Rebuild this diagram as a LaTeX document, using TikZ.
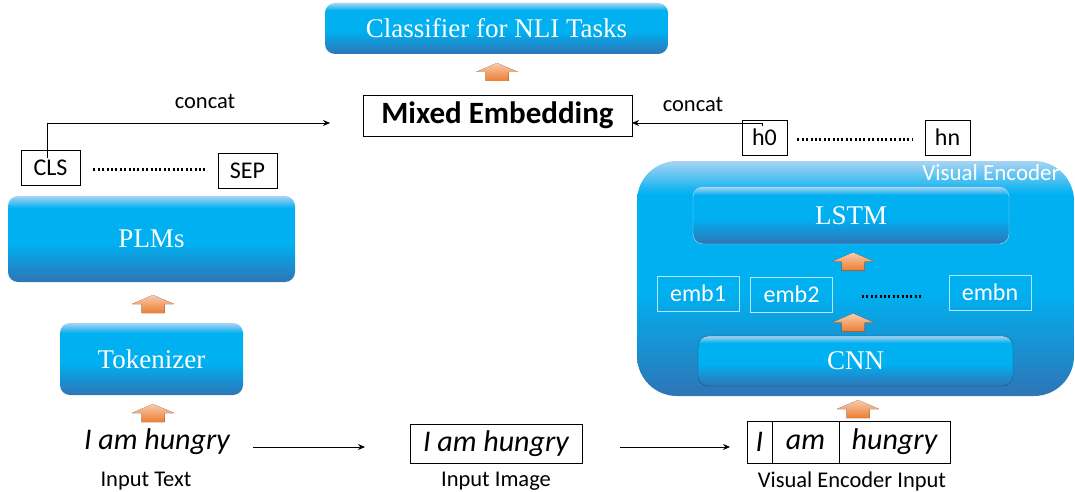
\documentclass[tikz,border=0pt]{standalone}
\usepackage{fontspec}
\setmainfont{Liberation Serif}
\setsansfont{Carlito}
\usetikzlibrary{calc,arrows.meta}
\definecolor{bbot}{HTML}{2E75B6}
\definecolor{bmid}{HTML}{00B0F0}
\definecolor{btop}{HTML}{A9D3F2}
\definecolor{arrtop}{HTML}{F8CBAD}
\definecolor{arrbot}{HTML}{ED7D31}
\pgfdeclareverticalshading{glassblue}{100bp}{color(0bp)=(bbot); color(25bp)=(bbot); color(47bp)=(bmid); color(68bp)=(bmid); color(75bp)=(btop); color(100bp)=(btop)}
\tikzset{
    glass/.style={rectangle, rounded corners=10pt, shading=glassblue, text=white, inner sep=0pt, font=\fontsize{27}{30}\selectfont},
    wbox/.style={rectangle, draw, line width=0.9pt, inner sep=0pt, font=\sffamily\fontsize{24}{28}\selectfont},
    embbox/.style={rectangle, draw=white!70!bmid, line width=0.8pt, inner sep=0pt, text=white, minimum width=82pt, minimum height=35pt, font=\sffamily\fontsize{24}{28}\selectfont},
    lbl/.style={inner sep=0pt, font=\sffamily\fontsize{22.5}{26}\selectfont},
    hungry/.style={inner sep=0pt, font=\sffamily\itshape\fontsize{30}{34}\selectfont},
    dots/.style={line width=2.2pt, dash pattern=on 2pt off 2.4pt},
    flow/.style={line width=0.8pt, -{Stealth[length=7pt, width=6pt]}},
    uparr/.pic={\fill[top color=arrtop, bottom color=arrbot] (-11.5,9) -- (-11.5,0) -- (-21,0) -- (0,-9) -- (21,0) -- (11.5,0) -- (11.5,9) -- cycle;}
}

\begin{document}
\begin{tikzpicture}[x=1pt, y=-1pt]
        \useasboundingbox (0,0) rectangle (1075,492);
        % top
        \node (clf) [glass, minimum width=343pt, minimum height=51pt] at (496.5,28.5) {Classifier for NLI Tasks};
        \node (mix) [wbox, minimum width=269pt, minimum height=41pt, font=\sffamily\bfseries\fontsize{31}{35}\selectfont] at (497.5,115.5) {Mixed Embedding};
        \pic at (497,72) {uparr};
        % text side
        \node (cls) [wbox, minimum width=59pt, minimum height=35pt] at (50.5,167.5) {CLS};
        \node (sep) [wbox, minimum width=59pt, minimum height=35pt] at (247.5,170.5) {SEP};
        \node (plm) [glass, minimum width=287pt, minimum height=86pt] at (151.5,239) {PLMs};
        \node (tok) [glass, minimum width=183pt, minimum height=72pt] at (151.5,359) {Tokenizer};
        \node (txt) [hungry] at (157,442) {I am hungry};
        \node (ltxt) [lbl] at (146,481) {Input Text};
        \pic at (153,304) {uparr};
        \pic at (153,413) {uparr};
        % image
        \node (img) [wbox, minimum width=172pt, minimum height=39pt, font=\sffamily\itshape\fontsize{30}{34}\selectfont] at (496,443.5) {I am hungry};
        \node (limg) [lbl] at (496,481) {Input Image};
        % visual encoder
        \node (venc) [rectangle, rounded corners=40pt, shading=glassblue, minimum width=437pt, minimum height=235pt] at (855.5,278.5) {};
        \node (vlbl) [lbl, text=white, font=\sffamily\fontsize{23}{27}\selectfont] at (991,173) {Visual Encoder};
        \node (lstm) [glass, draw=white!65!bmid, thin, minimum width=316pt, minimum height=57pt] at (851,215.5) {LSTM};
        \node (emb1) [embbox] at (698,293.5) {emb1};
        \node (emb2) [embbox] at (791.5,294.5) {emb2};
        \node (embn) [embbox] at (990,292.5) {embn};
        \node (cnn) [glass, draw=bbot!70!black, thin, minimum width=315pt, minimum height=50pt] at (855.5,361) {CNN};
        \pic at (853,261.5) {uparr};
        \pic at (853,322.5) {uparr};
        \pic at (858,409) {uparr};
        \node (h0) [wbox, minimum width=45pt, minimum height=35pt] at (764.5,137.5) {h0};
        \node (hn) [wbox, minimum width=45pt, minimum height=35pt] at (947.5,137.5) {hn};
        \node (w1) [wbox, minimum width=25pt, minimum height=42pt, font=\sffamily\itshape\fontsize{30}{34}\selectfont] at (759.5,442) {I};
        \node (w2) [wbox, minimum width=67pt, minimum height=42pt, font=\sffamily\itshape\fontsize{30}{34}\selectfont] at (805.5,442) {am};
        \node (w3) [wbox, minimum width=111pt, minimum height=42pt, font=\sffamily\itshape\fontsize{30}{34}\selectfont] at (894.5,442) {hungry};
        \node (lvei) [lbl] at (852,481) {Visual Encoder Input};
        % concat
        \node (catl) [lbl] at (205,101) {concat};
        \node (catr) [lbl] at (693,104) {concat};
        \coordinate (inl) at (330,123);
        \coordinate (inr) at (632,123);
        \draw [flow] ($(cls.north)+(-3,8)$) |- (inl);
        \draw [flow] ($(h0.north)+(-2,6)$) |- (inr);
        % dotted runs
        \draw [dots] ($(cls.east)+(13,2)$) -- ($(sep.west)+(-13,-1)$);
        \draw [dots] ($(h0.east)+(10,2)$) -- ($(hn.west)+(-12,2)$);
        \draw [dots] ($(emb2.east)+(29,2)$) -- ($(embn.west)+(-28,4)$);
        % flow along the bottom
        \draw [flow] (253,447) -- (365,447);
        \draw [flow] (620,447) -- (730,447);
\end{tikzpicture}
\end{document}
